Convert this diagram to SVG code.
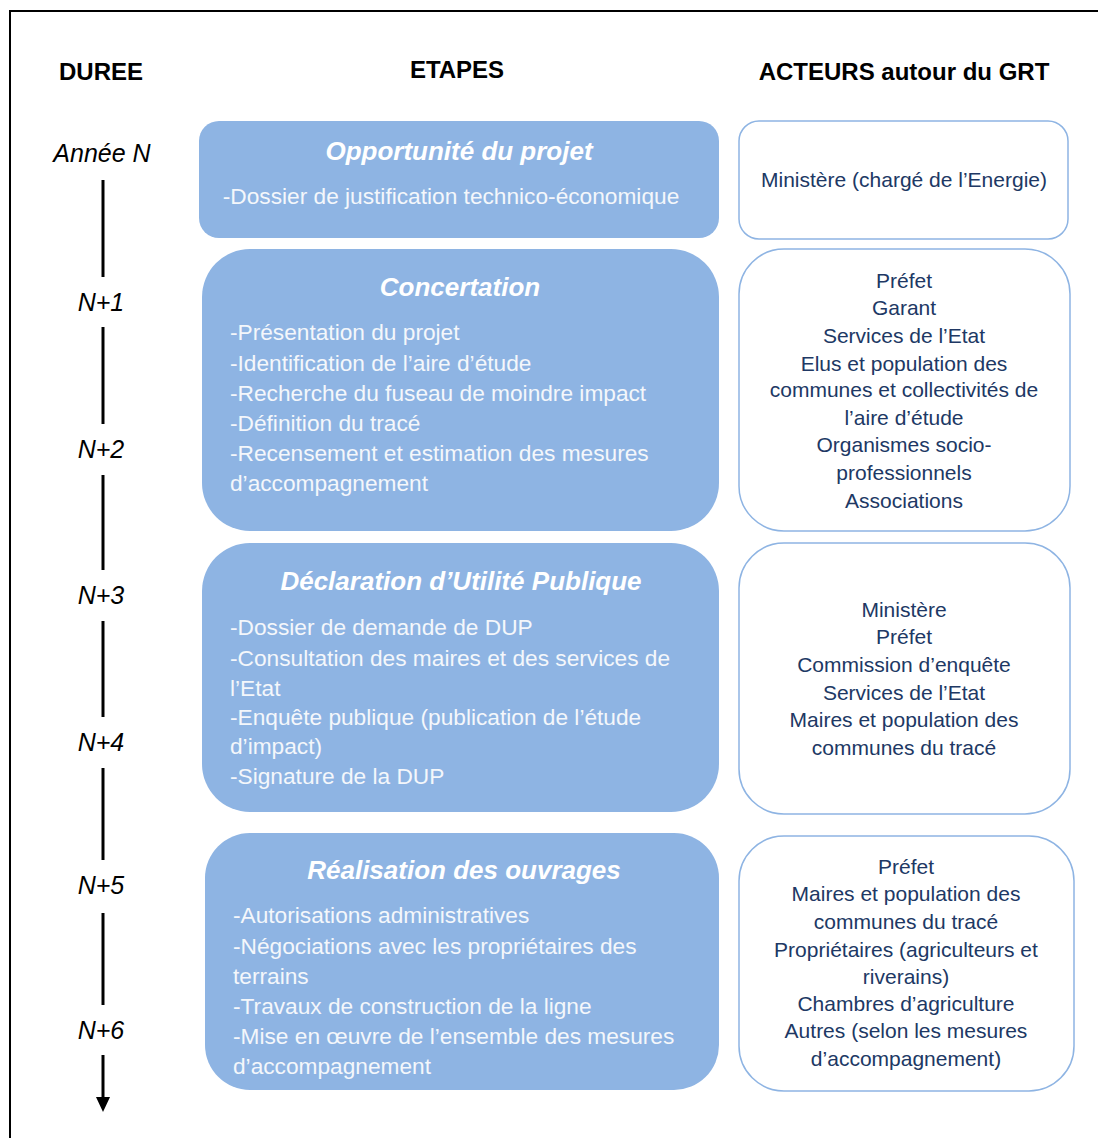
<svg xmlns="http://www.w3.org/2000/svg" width="1098" height="1138" viewBox="0 0 1098 1138">
<defs>
<style>
.hdr{font-family:"Liberation Sans",Arial,sans-serif;font-weight:bold;font-size:24px;fill:#000;text-anchor:middle}
.yr{font-family:"Liberation Sans",Arial,sans-serif;font-style:italic;font-size:25px;fill:#000;text-anchor:middle}
.step{fill:#8EB4E3}
.act{fill:#fff;stroke:#8EB4E3;stroke-width:1.5}
.ttl{font-family:"Liberation Sans",Arial,sans-serif;font-weight:bold;font-style:italic;font-size:26px;fill:#fff;text-anchor:middle}
.body{font-family:"Liberation Sans",Arial,sans-serif;font-size:22.7px;fill:#F4F7FB}
.atxt{font-family:"Liberation Sans",Arial,sans-serif;font-size:21px;fill:#203864;text-anchor:middle}
.tl{stroke:#000;stroke-width:3}
</style>
</defs>
<rect width="1098" height="1138" fill="#fff"/>
<path d="M10,1138 V11 H1098" fill="none" stroke="#000" stroke-width="2"/>

<g id="headers">
<text class="hdr" x="101" y="80">DUREE</text>
<text class="hdr" x="457" y="78">ETAPES</text>
<text class="hdr" x="904" y="80">ACTEURS autour du GRT</text>
</g>

<g id="timeline">
<text class="yr" x="102" y="162">Année N</text>
<text class="yr" x="101" y="311">N+1</text>
<text class="yr" x="101" y="458">N+2</text>
<text class="yr" x="101" y="604">N+3</text>
<text class="yr" x="101" y="751">N+4</text>
<text class="yr" x="101" y="894">N+5</text>
<text class="yr" x="101" y="1039">N+6</text>
</g>

<g id="connectors">
<line class="tl" x1="103" y1="180" x2="103" y2="277"/>
<line class="tl" x1="103" y1="327" x2="103" y2="424"/>
<line class="tl" x1="103" y1="475" x2="103" y2="570"/>
<line class="tl" x1="103" y1="621" x2="103" y2="717"/>
<line class="tl" x1="103" y1="768" x2="103" y2="860"/>
<line class="tl" x1="103" y1="913" x2="103" y2="1005"/>
<line class="tl" x1="103" y1="1055" x2="103" y2="1098"/>
<polygon points="96,1097 110,1097 103,1112" fill="#000"/>
</g>

<g id="step1">
<rect class="step" x="199" y="121" width="520" height="117" rx="20"/>
<text class="ttl" x="459" y="160">Opportunité du projet</text>
<text class="body" x="451" y="204" text-anchor="middle">-Dossier de justification technico-économique</text>
</g>

<g id="step2">
<rect class="step" x="202" y="249" width="517" height="282" rx="48"/>
<text class="ttl" x="460" y="296">Concertation</text>
<text class="body" x="230" y="340">-Présentation du projet</text>
<text class="body" x="230" y="371">-Identification de l’aire d’étude</text>
<text class="body" x="230" y="401">-Recherche du fuseau de moindre  impact</text>
<text class="body" x="230" y="431">-Définition du tracé</text>
<text class="body" x="230" y="461">-Recensement et estimation des mesures</text>
<text class="body" x="230" y="491">d’accompagnement</text>
</g>

<g id="step3">
<rect class="step" x="202" y="543" width="517" height="269" rx="48"/>
<text class="ttl" x="461" y="590">Déclaration d’Utilité Publique</text>
<text class="body" x="230" y="635">-Dossier de demande de DUP</text>
<text class="body" x="230" y="666">-Consultation des maires et des services de</text>
<text class="body" x="230" y="696">l’Etat</text>
<text class="body" x="230" y="725">-Enquête publique (publication de l’étude</text>
<text class="body" x="230" y="754">d’impact)</text>
<text class="body" x="230" y="784">-Signature de la DUP</text>
</g>

<g id="step4">
<rect class="step" x="205" y="833" width="514" height="257" rx="45"/>
<text class="ttl" x="464" y="879">Réalisation des ouvrages</text>
<text class="body" x="233" y="923">-Autorisations administratives</text>
<text class="body" x="233" y="954">-Négociations avec les propriétaires des</text>
<text class="body" x="233" y="984">terrains</text>
<text class="body" x="233" y="1014">-Travaux de construction de la ligne</text>
<text class="body" x="233" y="1044">-Mise en œuvre de l’ensemble des mesures</text>
<text class="body" x="233" y="1074">d’accompagnement</text>
</g>

<g id="actors1">
<rect class="act" x="739" y="121" width="329" height="118" rx="20"/>
<text class="atxt" x="904" y="187">Ministère (chargé de l’Energie)</text>
</g>

<g id="actors2">
<rect class="act" x="739" y="249" width="331" height="282" rx="45"/>
<text class="atxt" x="904" y="288">Préfet</text>
<text class="atxt" x="904" y="315">Garant</text>
<text class="atxt" x="904" y="343">Services de l’Etat</text>
<text class="atxt" x="904" y="371">Elus  et population des</text>
<text class="atxt" x="904" y="397">communes et collectivités de</text>
<text class="atxt" x="904" y="425">l’aire d’étude</text>
<text class="atxt" x="904" y="452">Organismes socio-</text>
<text class="atxt" x="904" y="480">professionnels</text>
<text class="atxt" x="904" y="508">Associations</text>
</g>

<g id="actors3">
<rect class="act" x="739" y="543" width="331" height="271" rx="45"/>
<text class="atxt" x="904" y="617">Ministère</text>
<text class="atxt" x="904" y="644">Préfet</text>
<text class="atxt" x="904" y="672">Commission d’enquête</text>
<text class="atxt" x="904" y="700">Services de l’Etat</text>
<text class="atxt" x="904" y="727">Maires et population des</text>
<text class="atxt" x="904" y="755">communes du tracé</text>
</g>

<g id="actors4">
<rect class="act" x="739" y="836" width="335" height="255" rx="45"/>
<text class="atxt" x="906" y="874">Préfet</text>
<text class="atxt" x="906" y="901">Maires et population des</text>
<text class="atxt" x="906" y="929">communes du tracé</text>
<text class="atxt" x="906" y="957">Propriétaires (agriculteurs et</text>
<text class="atxt" x="906" y="984">riverains)</text>
<text class="atxt" x="906" y="1011">Chambres d’agriculture</text>
<text class="atxt" x="906" y="1038">Autres (selon les mesures</text>
<text class="atxt" x="906" y="1066">d’accompagnement)</text>
</g>
</svg>
